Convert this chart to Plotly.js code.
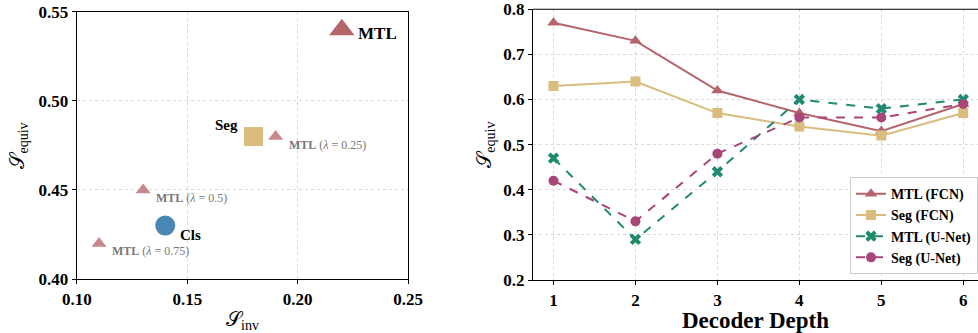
<!DOCTYPE html>
<html><head><meta charset="utf-8">
<script src="https://cdn.plot.ly/plotly-3.0.1.min.js"></script>
<style>html,body{margin:0;padding:0;background:#fff;overflow:hidden}</style>
</head><body><div id="chart" style="width:978px;height:333px"></div>
<script>
// Left scatter data
const scatterNames = ["MTL", "Seg", "Cls", "MTL (λ = 0.25)", "MTL (λ = 0.5)", "MTL (λ = 0.75)"];
const scatterInv = [0.22, 0.18, 0.14, 0.19, 0.13, 0.11];
const scatterEquiv = [0.54, 0.48, 0.43, 0.48, 0.45, 0.42];
const leftXTicks = [0.10, 0.15, 0.20, 0.25];
const leftYTicks = [0.40, 0.45, 0.50, 0.55];

// Right line data
const depth = [1, 2, 3, 4, 5, 6];
const mtlFCN = [0.77, 0.73, 0.62, 0.57, 0.53, 0.59];
const segFCN = [0.63, 0.64, 0.57, 0.54, 0.52, 0.57];
const mtlUNet = [0.47, 0.29, 0.44, 0.60, 0.58, 0.60];
const segUNet = [0.42, 0.33, 0.48, 0.56, 0.56, 0.59];
const rightYTicks = [0.2, 0.3, 0.4, 0.5, 0.6, 0.7, 0.8];

const serif = "Liberation Serif, Times New Roman, serif";
const cMTL = "#b5646b", cSeg = "#d9bc7e", cCls = "#4a86b4", cMTLs = "#c7888d";
const cMTLU = "#1f8a6e", cSegU = "#a8467a";

const traces = [
  {x:[scatterInv[0]], y:[scatterEquiv[0]], mode:"markers", xaxis:"x", yaxis:"y", showlegend:false,
   marker:{symbol:"triangle-up", size:22, color:cMTL}},
  {x:[scatterInv[1]], y:[scatterEquiv[1]], mode:"markers", xaxis:"x", yaxis:"y", showlegend:false,
   marker:{symbol:"square", size:19, color:cSeg}},
  {x:[scatterInv[2]], y:[scatterEquiv[2]], mode:"markers", xaxis:"x", yaxis:"y", showlegend:false,
   marker:{symbol:"circle", size:20, color:cCls}},
  {x:scatterInv.slice(3), y:scatterEquiv.slice(3), mode:"markers", xaxis:"x", yaxis:"y", showlegend:false,
   marker:{symbol:"triangle-up", size:13, color:cMTLs}},
  {x:depth, y:mtlFCN, name:"<b>MTL (FCN)</b>", mode:"lines+markers", xaxis:"x2", yaxis:"y2",
   line:{color:cMTL, width:2}, marker:{symbol:"triangle-up", size:11, color:cMTL}},
  {x:depth, y:segFCN, name:"<b>Seg (FCN)</b>", mode:"lines+markers", xaxis:"x2", yaxis:"y2",
   line:{color:cSeg, width:2}, marker:{symbol:"square", size:10, color:cSeg}},
  {x:depth, y:mtlUNet, name:"<b>MTL (U-Net)</b>", mode:"lines+markers", xaxis:"x2", yaxis:"y2",
   line:{color:cMTLU, width:2, dash:"dash"}, marker:{symbol:"x", size:10, color:cMTLU}},
  {x:depth, y:segUNet, name:"<b>Seg (U-Net)</b>", mode:"lines+markers", xaxis:"x2", yaxis:"y2",
   line:{color:cSegU, width:2, dash:"dash"}, marker:{symbol:"circle", size:10, color:cSegU}}
];

const tickFont = {family:serif, size:17, color:"#000", weight:700};
const grid = {showgrid:true, gridcolor:"#d9d9d9", griddash:"dot", gridwidth:1};
const bold = v => "<b>" + v + "</b>";

const annotations = [
  {x:scatterInv[0], y:scatterEquiv[0], text:"<b>MTL</b>", xshift:14, yshift:-4, xanchor:"left", yanchor:"middle", showarrow:false, font:{family:serif, size:17, color:"#000"}},
  {x:scatterInv[1], y:scatterEquiv[1], text:"<b>Seg</b>", xshift:-14, yshift:12, xanchor:"right", yanchor:"middle", showarrow:false, font:{family:serif, size:15, color:"#000"}},
  {x:scatterInv[2], y:scatterEquiv[2], text:"<b>Cls</b>", xshift:13, yshift:-9, xanchor:"left", yanchor:"middle", showarrow:false, font:{family:serif, size:15, color:"#000"}},
  {x:scatterInv[3], y:scatterEquiv[3], text:"<b>MTL</b> (<i>λ</i> = 0.25)", xshift:11, yshift:-8, xanchor:"left", yanchor:"middle", showarrow:false, font:{family:serif, size:12, color:"#777"}},
  {x:scatterInv[4], y:scatterEquiv[4], text:"<b>MTL</b> (<i>λ</i> = 0.5)", xshift:11, yshift:-8, xanchor:"left", yanchor:"middle", showarrow:false, font:{family:serif, size:12, color:"#777"}},
  {x:scatterInv[5], y:scatterEquiv[5], text:"<b>MTL</b> (<i>λ</i> = 0.75)", xshift:11, yshift:-8, xanchor:"left", yanchor:"middle", showarrow:false, font:{family:serif, size:12, color:"#777"}}
];

const axisBase = {tickfont:tickFont, ticks:"outside", ticklen:4, tickcolor:"#000", showline:true, linecolor:"#000", linewidth:1.2, zeroline:false, automargin:false, ticklabeloverflow:"allow"};

const layout = {
  width:978, height:333,
  margin:{l:0, r:0, t:6, b:0},
  paper_bgcolor:"#fff", plot_bgcolor:"#fff",
  font:{family:serif},
  xaxis:Object.assign({}, axisBase, grid, {domain:[0.0787, 0.4172], range:[0.10, 0.25], tickvals:leftXTicks, ticktext:leftXTicks.map(v=>bold(v.toFixed(2))),
    mirror:true, title:{text:"𝒮<sub>inv</sub>", font:{family:serif, size:20, color:"#000"}, standoff:4}, anchor:"y"}),
  yaxis:Object.assign({}, axisBase, grid, {domain:[0.165, 0.982], range:[0.40, 0.55], tickvals:leftYTicks, ticktext:leftYTicks.map(v=>bold(v.toFixed(2))),
    mirror:true, title:{text:"𝒮<sub>equiv</sub>", font:{family:serif, size:20, color:"#000"}, standoff:8}, anchor:"x"}),
  xaxis2:Object.assign({}, axisBase, grid, {domain:[0.545, 1.0], range:[0.75, 6.18], tickvals:depth, ticktext:depth.map(v=>bold(v)),
    title:{text:"<b>Decoder Depth</b>", font:{family:serif, size:23, color:"#000"}, standoff:4}, anchor:"y2"}),
  yaxis2:Object.assign({}, axisBase, grid, {domain:[0.162, 0.99], range:[0.2, 0.8], tickvals:rightYTicks, ticktext:rightYTicks.map(v=>bold(v.toFixed(1))),
    title:{text:"𝒮<sub>equiv</sub>", font:{family:serif, size:20, color:"#000"}, standoff:6}, anchor:"x2"}),
  shapes:[{type:"line", xref:"x2 domain", yref:"y2 domain", x0:0, x1:1, y0:1, y1:1, line:{color:"#000", width:1.2}}],
  legend:{x:1.0, y:0.18, xref:"paper", yref:"paper", xanchor:"right", yanchor:"bottom",
    bgcolor:"rgba(255,255,255,0.9)", bordercolor:"#ccc", borderwidth:1,
    font:{family:serif, size:14, color:"#000"}, tracegroupgap:0, itemwidth:30},
  annotations:annotations
};

Plotly.newPlot("chart", traces, layout, {displayModeBar:false, staticPlot:true});
</script>
</body></html>
